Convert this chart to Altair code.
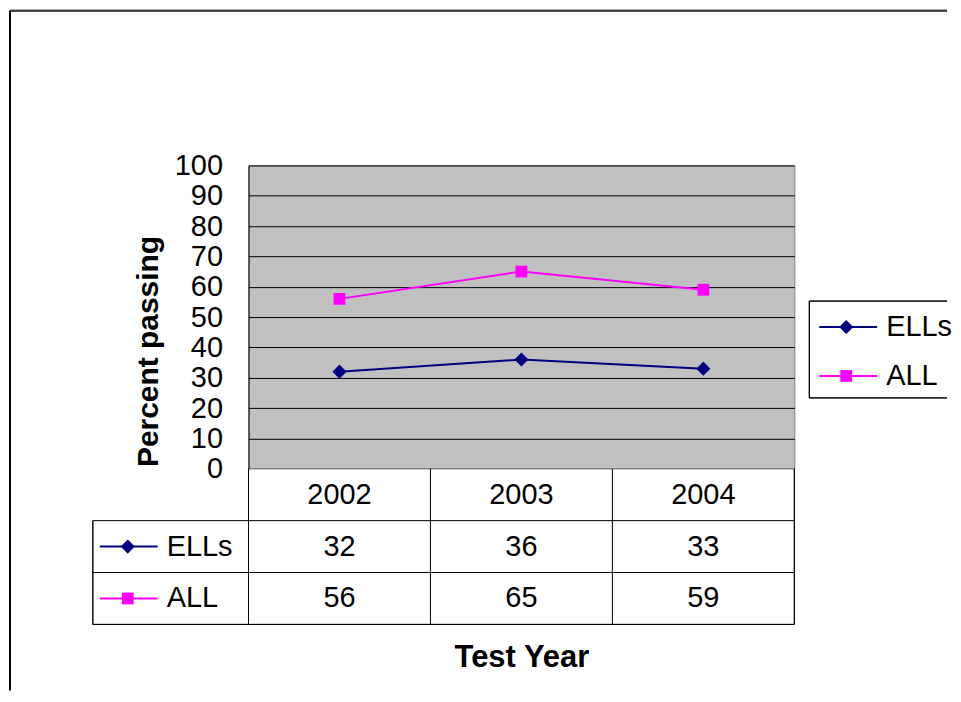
import altair as alt
import pandas as pd

years = ["2002", "2003", "2004"]
series = ["ELLs", "ALL"]
ells_values = [32, 36, 33]
all_values = [56, 65, 59]
series_colors = ["#000080", "#FF00FF"]
series_shapes = ["diamond", "square"]
series_sizes = [200, 140]
y_ticks = list(range(0, 101, 10))

FONT = "Liberation Sans"

rows = []
for y, v in zip(years, ells_values):
    rows.append({"year": y, "series": "ELLs", "value": v})
for y, v in zip(years, all_values):
    rows.append({"year": y, "series": "ALL", "value": v})
df = pd.DataFrame(rows)
df_series = pd.DataFrame({"series": series})
df_years = pd.DataFrame({"year": years, "row": ["Year"] * len(years)})
df_rows = pd.DataFrame({"row": ["ELLs", "ALL"]})

W, H = 547, 304
TH = 156

color = alt.Color("series:N", scale=alt.Scale(domain=series, range=series_colors), legend=None)
shape = alt.Shape("series:N", scale=alt.Scale(domain=series, range=series_shapes), legend=None)
size = alt.Size("series:N", scale=alt.Scale(domain=series, range=series_sizes), legend=None)

x_top = alt.X("year:N", scale=alt.Scale(type="point", domain=years, padding=0.5), axis=None)
y_top = alt.Y(
    "value:Q",
    scale=alt.Scale(domain=[0, 100], nice=False),
    axis=alt.Axis(
        values=y_ticks,
        grid=True,
        gridColor="#000000",
        gridWidth=1,
        ticks=False,
        domainColor="#000000",
        labelFontSize=29,
        labelColor="#000000",
        labelPadding=26,
        title="Percent passing",
        titleFontSize=30,
        titleFontWeight="bold",
        titleColor="#000000",
        titleX=-100,
        titleY=186,
        titleAngle=270,
        titleAlign="center",
        titleBaseline="middle",
    ),
)

lines = alt.Chart(df).mark_line(strokeWidth=2).encode(x=x_top, y=y_top, color=color)
points = alt.Chart(df).mark_point(filled=True, opacity=1).encode(
    x=x_top, y=y_top, color=color, shape=shape, size=size
)
main = alt.layer(lines, points)

leg_y = alt.Y("series:N", scale=alt.Scale(type="point", domain=series, range=[162, 211], padding=0), axis=None)
leg_line = alt.Chart(df_series).mark_rule(strokeWidth=2).encode(
    x=alt.value(572), x2=alt.value(630), y=leg_y, color=color
)
leg_pt = alt.Chart(df_series).mark_point(filled=True, opacity=1).encode(
    x=alt.value(599), y=leg_y, color=color, shape=shape, size=size
)
leg_txt = alt.Chart(df_series).mark_text(align="left", baseline="middle", fontSize=29, color="#000000").encode(
    x=alt.value(639), y=leg_y, text="series:N"
)
legend = alt.layer(leg_line, leg_pt, leg_txt)

RIGHT = 700
box_top = alt.Chart(df_series).mark_rule(color="#000000", strokeWidth=1).encode(
    x=alt.value(562), x2=alt.value(RIGHT), y=alt.value(136)
)
box_bot = alt.Chart(df_series).mark_rule(color="#000000", strokeWidth=1).encode(
    x=alt.value(562), x2=alt.value(RIGHT), y=alt.value(233)
)
box_left = alt.Chart(df_series).mark_rule(color="#000000", strokeWidth=1).encode(
    x=alt.value(562), y=alt.value(136), y2=alt.value(233)
)
frame_top = alt.Chart(df_series).mark_rule(color="#404040", strokeWidth=2).encode(
    x=alt.value(-239), x2=alt.value(RIGHT), y=alt.value(-155)
)
frame_left = alt.Chart(df_series).mark_rule(color="#000000", strokeWidth=2).encode(
    x=alt.value(-239), y=alt.value(-155), y2=alt.value(526)
)
deco = alt.layer(box_top, box_bot, box_left, frame_top, frame_left)

top = alt.layer(main, legend, deco).resolve_scale(y="independent").properties(
    width=W, height=H, view=alt.ViewBackground(fill="#C0C0C0", stroke="#808080", strokeWidth=1)
)

# ---------- data table ----------
x_axis_tbl = alt.Axis(
    labels=False, ticks=False, domain=False, grid=False,
    title="Test Year", titleFontSize=31, titleFontWeight="bold", titleColor="#000000", titlePadding=18,
)
x_scale_tbl = alt.Scale(type="band", domain=years, paddingInner=0, paddingOuter=0)
y_scale_tbl = alt.Scale(type="band", domain=["Year", "ELLs", "ALL"], paddingInner=0, paddingOuter=0)

hdr = alt.Chart(df_years).mark_text(fontSize=29, color="#000000", baseline="middle").encode(
    x=alt.X("year:N", scale=x_scale_tbl, axis=x_axis_tbl, bandPosition=0.5),
    y=alt.Y("row:N", scale=y_scale_tbl, axis=None, bandPosition=0.5),
    text="year:N",
)
vals = alt.Chart(df).mark_text(fontSize=29, color="#000000", baseline="middle").encode(
    x=alt.X("year:N", scale=x_scale_tbl, axis=x_axis_tbl, bandPosition=0.5),
    y=alt.Y("series:N", scale=y_scale_tbl, axis=None, bandPosition=0.5),
    text="value:Q",
)
vlines = alt.Chart(df_years).mark_rule(color="#000000", strokeWidth=1).encode(
    x=alt.X("year:N", scale=x_scale_tbl, axis=x_axis_tbl, bandPosition=0),
    y=alt.value(0), y2=alt.value(TH),
)
vright = alt.Chart(df_rows).mark_rule(color="#000000", strokeWidth=1).encode(
    x=alt.value(W), y=alt.value(0), y2=alt.value(TH)
)
hlines = alt.Chart(df_rows).mark_rule(color="#000000", strokeWidth=1).encode(
    y=alt.Y("row:N", scale=y_scale_tbl, axis=None, bandPosition=0),
    x=alt.value(-156), x2=alt.value(W),
)
hbottom = alt.Chart(df_rows).mark_rule(color="#000000", strokeWidth=1).encode(
    y=alt.value(TH), x=alt.value(-156), x2=alt.value(W)
)
vleft = alt.Chart(df_rows).mark_rule(color="#000000", strokeWidth=1).encode(
    x=alt.value(-156), y=alt.value(TH / 3), y2=alt.value(TH)
)
key_y = alt.Y("series:N", scale=y_scale_tbl, axis=None, bandPosition=0.5)
key_line = alt.Chart(df_series).mark_rule(strokeWidth=2).encode(
    x=alt.value(-149), x2=alt.value(-91), y=key_y, color=color
)
key_pt = alt.Chart(df_series).mark_point(filled=True, opacity=1).encode(
    x=alt.value(-121), y=key_y, color=color, shape=shape, size=size
)
key_txt = alt.Chart(df_series).mark_text(align="left", baseline="middle", fontSize=29, color="#000000").encode(
    x=alt.value(-82), y=key_y, text="series:N"
)

table = alt.layer(vlines, vright, hlines, hbottom, vleft, hdr, vals, key_line, key_pt, key_txt).properties(
    width=W, height=TH, view=alt.ViewBackground(fill="white", stroke="transparent")
)

chart = alt.vconcat(top, table, spacing=0, bounds="flush").properties(
    padding=0, background="white"
).configure(font=FONT)

chart.save("out.html", embed_options={"renderer": "svg", "actions": False})
